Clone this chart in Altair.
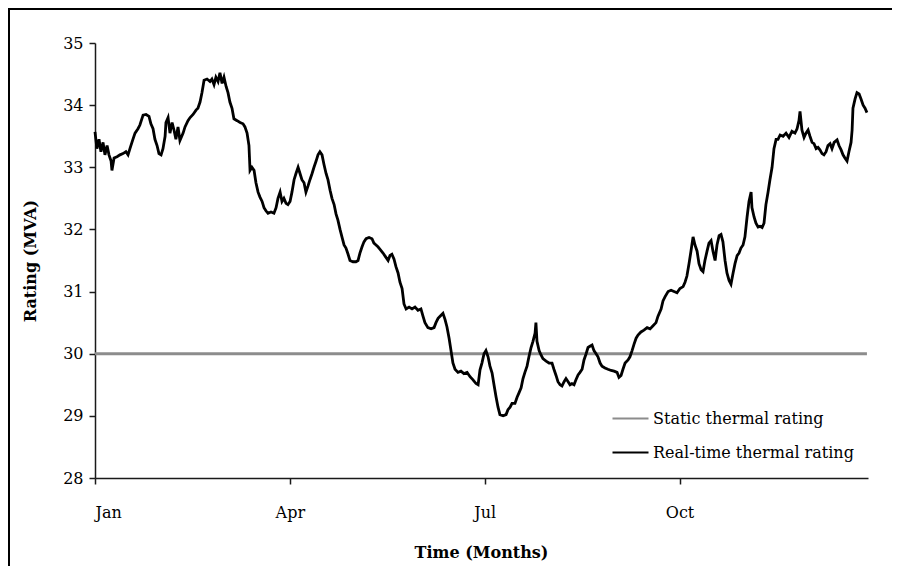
import altair as alt
import pandas as pd

# Real-time thermal rating (day of year, MVA)
days = [0, 0.9, 1.9, 2.8, 3.8, 4.7, 5.7, 6.6, 7.6, 8.0, 9.0, 10.4, 11.8, 13.2, 14.6, 15.6, 16.5, 17.9,
        18.9, 20.3, 21.2, 22.7, 24.1, 25.5, 26.4, 27.4, 28.3, 29.3, 30.2, 31.2, 32.1, 33.1, 33.5, 34.5,
        35.4, 36.4, 37.3, 38.2, 39.2, 40.1, 41.6, 42.5, 43.9, 44.9, 46.3, 47.7, 48.6, 49.6, 50.5, 51.5,
        52.9, 54.3, 55.2, 56.2, 57.1, 58.1, 59.0, 60.0, 60.9, 61.9, 62.8, 63.7, 64.7, 65.6, 67.1, 68.5,
        69.9, 70.8, 71.8, 72.7, 73.2, 74.1, 75.1, 76.0, 77.0, 77.9, 78.9, 79.8, 80.7, 81.7, 83.1, 84.5,
        85.5, 86.4, 87.4, 88.3, 89.2, 90.2, 91.1, 92.1, 93.0, 94.0, 94.9, 95.9, 96.8, 97.7, 98.7, 99.6,
        100.6, 101.5, 102.5, 103.4, 104.4, 105.3, 106.2, 107.2, 108.1, 109.1, 110.0, 111.0, 111.9, 112.9,
        113.8, 114.7, 115.7, 116.6, 117.6, 118.5, 119.5, 120.4, 121.8, 123.2, 124.2, 125.1, 126.1, 127.0,
        128.0, 129.4, 130.8, 131.7, 132.7, 133.6, 134.6, 136.0, 137.4, 138.4, 139.3, 140.2, 141.2, 142.1,
        143.1, 144.0, 145.0, 145.9, 146.9, 148.3, 149.7, 151.1, 152.5, 153.9, 154.9, 155.8, 157.2, 158.7,
        160.1, 161.0, 162.0, 163.4, 164.3, 165.3, 166.2, 167.2, 168.1, 169.0, 170.0, 171.4, 172.8, 174.2,
        175.7, 177.1, 178.5, 179.9, 180.9, 181.8, 182.7, 183.7, 184.6, 185.6, 186.5, 187.5, 188.4, 189.4,
        190.3, 191.2, 192.7, 194.1, 195.0, 196.0, 196.9, 198.3, 199.3, 200.2, 201.2, 202.1, 203.0, 204.0,
        204.9, 205.9, 206.8, 207.8, 208.2, 208.7, 209.7, 210.6, 211.5, 213.0, 214.4, 215.8, 216.7, 217.7,
        218.6, 219.6, 220.5, 221.5, 222.4, 223.4, 224.3, 225.2, 226.2, 227.1, 228.1, 229.0, 230.0, 230.9,
        231.9, 232.8, 233.7, 234.7, 235.6, 236.6, 237.5, 238.5, 239.4, 240.8, 242.2, 243.7, 245.1, 246.5,
        247.4, 248.4, 249.3, 250.3, 251.7, 252.6, 253.6, 254.5, 255.5, 256.4, 257.8, 259.2, 260.7, 262.1,
        263.5, 264.9, 265.8, 267.3, 268.2, 269.2, 270.6, 272.0, 273.4, 274.8, 276.2, 277.7, 278.6, 279.5,
        280.5, 281.4, 282.4, 283.3, 284.3, 285.2, 286.2, 287.1, 288.0, 289.0, 289.9, 290.9, 291.8, 292.8,
        293.7, 294.7, 295.6, 296.5, 297.5, 298.4, 299.4, 300.3, 301.3, 302.2, 303.2, 304.1, 305.0, 306.0,
        306.9, 307.9, 308.8, 309.8, 310.2, 311.2, 312.1, 313.1, 314.0, 315.0, 315.9, 316.8, 317.8, 318.7,
        319.7, 320.6, 321.6, 322.5, 323.5, 324.9, 326.3, 327.7, 329.1, 330.5, 331.5, 332.4, 332.9, 333.8,
        334.8, 335.7, 336.7, 337.6, 338.6, 339.5, 340.5, 341.4, 342.3, 343.3, 344.2, 345.2, 346.1, 347.1,
        348.0, 349.0, 350.4, 351.3, 352.3, 353.2, 354.1, 355.1, 356.0, 357.0, 357.5, 357.9, 358.9, 359.8,
        360.8, 361.7, 362.7, 363.6, 364.5]

rtr = [33.57, 33.3, 33.45, 33.25, 33.4, 33.2, 33.35, 33.2, 33.1, 32.95, 33.15, 33.17, 33.2, 33.22, 33.25,
       33.2, 33.3, 33.45, 33.55, 33.62, 33.68, 33.84, 33.85, 33.82, 33.7, 33.62, 33.45, 33.35, 33.22, 33.2,
       33.3, 33.5, 33.72, 33.8, 33.55, 33.72, 33.6, 33.45, 33.65, 33.43, 33.55, 33.65, 33.75, 33.8, 33.85,
       33.92, 33.95, 34.05, 34.2, 34.4, 34.42, 34.38, 34.42, 34.33, 34.45, 34.38, 34.52, 34.35, 34.45, 34.3,
       34.2, 34.05, 33.95, 33.78, 33.75, 33.72, 33.7, 33.65, 33.55, 33.35, 32.95, 33.0, 32.95, 32.75, 32.6,
       32.52, 32.45, 32.35, 32.3, 32.26, 32.28, 32.26, 32.35, 32.5, 32.6, 32.45, 32.5, 32.42, 32.4, 32.45,
       32.6, 32.8, 32.9, 33.0, 32.9, 32.8, 32.75, 32.6, 32.7, 32.8, 32.9, 33.0, 33.1, 33.2, 33.25, 33.2,
       33.05, 32.9, 32.8, 32.63, 32.5, 32.4, 32.25, 32.15, 32.0, 31.88, 31.75, 31.7, 31.6, 31.5, 31.48, 31.48,
       31.5, 31.62, 31.72, 31.8, 31.85, 31.87, 31.85, 31.78, 31.75, 31.72, 31.68, 31.62, 31.55, 31.5, 31.58,
       31.6, 31.52, 31.4, 31.3, 31.15, 31.05, 30.8, 30.72, 30.75, 30.72, 30.75, 30.7, 30.72, 30.6, 30.5,
       30.42, 30.4, 30.42, 30.5, 30.57, 30.62, 30.65, 30.55, 30.43, 30.25, 30.05, 29.85, 29.75, 29.7, 29.72,
       29.68, 29.7, 29.63, 29.58, 29.52, 29.5, 29.74, 29.85, 30.0, 30.05, 29.95, 29.8, 29.69, 29.5, 29.3,
       29.14, 29.02, 29.0, 29.02, 29.1, 29.14, 29.2, 29.2, 29.3, 29.37, 29.45, 29.6, 29.7, 29.8, 29.95,
       30.1, 30.2, 30.33, 30.5, 30.2, 30.05, 29.98, 29.92, 29.88, 29.85, 29.85, 29.75, 29.65, 29.55, 29.5,
       29.48, 29.55, 29.6, 29.55, 29.5, 29.52, 29.5, 29.58, 29.66, 29.7, 29.75, 29.9, 30.0, 30.1, 30.12,
       30.14, 30.05, 30.0, 29.95, 29.85, 29.8, 29.77, 29.75, 29.73, 29.72, 29.7, 29.62, 29.65, 29.75, 29.85,
       29.9, 29.95, 30.05, 30.15, 30.25, 30.3, 30.35, 30.38, 30.42, 30.4, 30.45, 30.5, 30.6, 30.72, 30.85,
       30.92, 31.0, 31.02, 31.0, 30.98, 31.05, 31.08, 31.15, 31.25, 31.45, 31.65, 31.88, 31.75, 31.65, 31.45,
       31.35, 31.32, 31.5, 31.65, 31.78, 31.82, 31.65, 31.5, 31.75, 31.9, 31.92, 31.8, 31.5, 31.3, 31.18,
       31.12, 31.3, 31.45, 31.58, 31.62, 31.7, 31.75, 31.88, 32.2, 32.45, 32.6, 32.35, 32.2, 32.1, 32.04,
       32.05, 32.03, 32.1, 32.4, 32.6, 32.8, 33.0, 33.3, 33.45, 33.45, 33.52, 33.5, 33.55, 33.48, 33.58,
       33.55, 33.62, 33.75, 33.9, 33.6, 33.48, 33.55, 33.6, 33.5, 33.4, 33.38, 33.3, 33.32, 33.28, 33.22,
       33.2, 33.25, 33.35, 33.38, 33.3, 33.4, 33.44, 33.35, 33.28, 33.2, 33.15, 33.1, 33.25, 33.4, 33.6,
       33.95, 34.1, 34.2, 34.18, 34.1, 34.0, 33.95, 33.88]

static_days = [0, 364.5]
static_vals = [30.0, 30.0]

series_names = ["Static thermal rating", "Real-time thermal rating"]
series_colors = ["#8c8c8c", "#000000"]

tick_days = [0, 92, 184, 276]
tick_labels = ["Jan", "Apr", "Jul", "Oct"]
y_ticks = [28, 29, 30, 31, 32, 33, 34, 35]

FONT = "DejaVu Serif"

label_expr = "''"
for d, lab in reversed(list(zip(tick_days, tick_labels))):
    label_expr = f"datum.value == {d} ? '{lab}' : ({label_expr})"

rt_df = pd.DataFrame({"day": days, "rating": rtr, "series": series_names[1]})
st_df = pd.DataFrame({"day": static_days, "rating": static_vals, "series": series_names[0]})

W, H = 773, 435
PAD = {"left": 87, "top": 35, "right": 24, "bottom": 88}

x_enc = alt.X("day:Q",
              scale=alt.Scale(domain=[0, 365], nice=False, zero=False),
              axis=alt.Axis(values=tick_days, labelExpr=label_expr, title="Time (Months)",
                            titleX=386, titleY=74, titleBaseline="middle", titleAlign="center",
                            labelPadding=20, tickSize=6))
y_enc = alt.Y("rating:Q",
              scale=alt.Scale(domain=[28, 35], nice=False, zero=False),
              axis=alt.Axis(values=y_ticks, title="Rating (MVA)", titleAngle=270,
                            titleX=-65, titleY=H / 2, titleBaseline="middle", titleAlign="center",
                            labelPadding=6, tickSize=6))
color_enc = alt.Color("series:N",
                      scale=alt.Scale(domain=series_names, range=series_colors),
                      legend=alt.Legend(title=None, orient="none", legendX=516, legendY=356,
                                        symbolType="stroke", symbolSize=1296, symbolStrokeWidth=2.2,
                                        labelFont=FONT, labelFontSize=16, labelColor="black",
                                        labelLimit=0, labelOffset=3, rowPadding=6, padding=0))

static_line = alt.Chart(st_df).mark_line(strokeWidth=3).encode(x=x_enc, y=y_enc, color=color_enc)
rt_line = alt.Chart(rt_df).mark_line(strokeWidth=2.8, strokeJoin="miter").encode(
    x=x_enc, y=y_enc, color=color_enc)

# outer frame: only its top and left edges are visible in the reference (thin filled bars)
frame_df = pd.DataFrame({"f": [0]})
frame_left = alt.Chart(frame_df).mark_rect(color="black", strokeWidth=0).encode(
    x=alt.value(-87), x2=alt.value(-85), y=alt.value(-35), y2=alt.value(H + PAD["bottom"]))
frame_top = alt.Chart(frame_df).mark_rect(color="black", strokeWidth=0).encode(
    x=alt.value(-87), x2=alt.value(W + PAD["right"]), y=alt.value(-35), y2=alt.value(-33))

chart = alt.layer(static_line, rt_line, frame_left, frame_top).properties(
    width=W, height=H,
    autosize=alt.AutoSizeParams(type="none"),
    padding=PAD,
    background="white",
).configure_view(stroke=None).configure_axis(
    grid=False, domainColor="#1a1a1a", tickColor="#1a1a1a", domainWidth=1.5, tickWidth=1.5,
    labelFont=FONT, labelFontSize=16, labelColor="black",
    titleFont=FONT, titleFontSize=16, titleFontWeight="bold", titleColor="black",
)

chart.save("out.html", embed_options={"renderer": "svg", "actions": False})
